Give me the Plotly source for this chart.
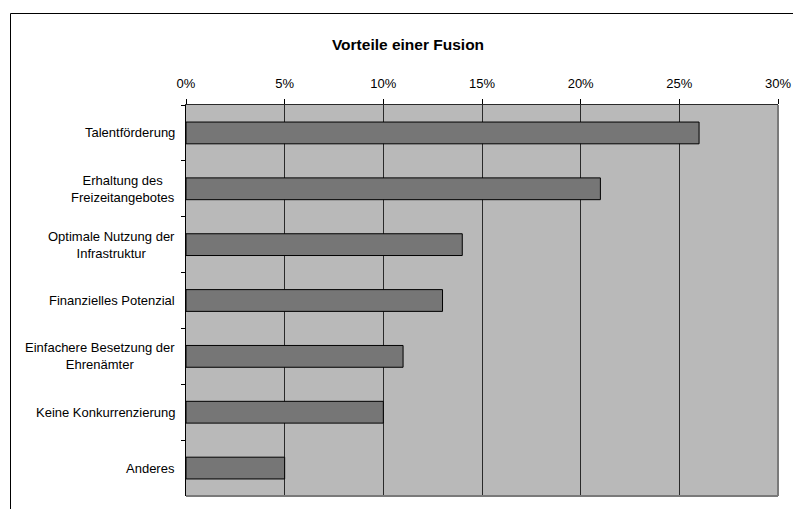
import plotly.graph_objects as go

categories = [
    "Talentförderung",
    "Erhaltung des<br>Freizeitangebotes",
    "Optimale Nutzung der<br>Infrastruktur",
    "Finanzielles Potenzial",
    "Einfachere Besetzung der<br>Ehrenämter",
    "Keine Konkurrenzierung",
    "Anderes",
]
values = [0.26, 0.21, 0.14, 0.13, 0.11, 0.10, 0.05]
x_ticks = [0, 0.05, 0.10, 0.15, 0.20, 0.25, 0.30]
x_tick_labels = ["0%", "5%", "10%", "15%", "20%", "25%", "30%"]
title_text = "Vorteile einer Fusion"

FONT = "Liberation Sans, Arial, sans-serif"
W, H = 793, 509
L, R, T, B = 186, 15, 105, 13
pw = W - L - R
ph = H - T - B

fig = go.Figure()
fig.add_trace(go.Bar(
    x=values, y=categories, orientation="h",
    marker=dict(color="#767676", line=dict(color="#000000", width=1)),
    hoverinfo="skip",
))

def px_to_paper_x(px):
    return (px - L) / pw

def px_to_paper_y(py):
    return (H - B - py) / ph

shapes = [
    # chart border (left and top)
    dict(type="line", xref="paper", yref="paper",
         x0=px_to_paper_x(10.5), x1=px_to_paper_x(10.5),
         y0=px_to_paper_y(13.5), y1=px_to_paper_y(520),
         line=dict(color="#000000", width=1), layer="above"),
    dict(type="line", xref="paper", yref="paper",
         x0=px_to_paper_x(10.5), x1=px_to_paper_x(800),
         y0=px_to_paper_y(13.5), y1=px_to_paper_y(13.5),
         line=dict(color="#000000", width=1), layer="above"),
    # plot area right and bottom borders (gray)
    dict(type="line", xref="paper", yref="paper",
         x0=1, x1=1, y0=0, y1=1,
         line=dict(color="#7a7a7a", width=2), layer="above"),
    dict(type="line", xref="paper", yref="paper",
         x0=0, x1=1, y0=0, y1=0,
         line=dict(color="#7a7a7a", width=2), layer="above"),
]

# category labels as centered multi-line annotations
annotations = [
    dict(text=c, x=0, xref="paper", y=c, yref="y", xanchor="right", yanchor="middle",
         xshift=-9, align="center", showarrow=False,
         font=dict(family=FONT, size=13, color="#000000"))
    for c in categories
]

fig.update_layout(
    template="none",
    width=W, height=H,
    margin=dict(l=L, r=R, t=T, b=B, pad=0, autoexpand=False),
    paper_bgcolor="#ffffff",
    plot_bgcolor="#b9b9b9",
    bargap=0.61,
    showlegend=False,
    font=dict(family=FONT, size=13, color="#000000"),
    title=dict(text="<b>" + title_text + "</b>", x=408 / W, xanchor="center",
               y=1 - 45 / H, yanchor="middle", xref="container", yref="container",
               font=dict(family=FONT, size=15.5, color="#000000")),
    xaxis=dict(
        side="top", range=[0, 0.30], tickvals=x_ticks, ticktext=x_tick_labels,
        showgrid=True, gridcolor="#2a2a2a", gridwidth=1,
        showline=True, linecolor="#2a2a2a", linewidth=1,
        ticks="outside", ticklen=5, tickcolor="#000000", tickwidth=1,
        ticklabelstandoff=6,
        zeroline=False, fixedrange=True, automargin=False,
        tickfont=dict(family=FONT, size=13),
    ),
    yaxis=dict(
        autorange="reversed", type="category", tickson="boundaries",
        ticks="outside", ticklen=4, tickcolor="#000000", tickwidth=1,
        showline=True, linecolor="#000000", linewidth=1,
        showticklabels=False,
        showgrid=False, zeroline=False, fixedrange=True, automargin=False,
    ),
    shapes=shapes,
    annotations=annotations,
)

fig.write_html("out.html")
